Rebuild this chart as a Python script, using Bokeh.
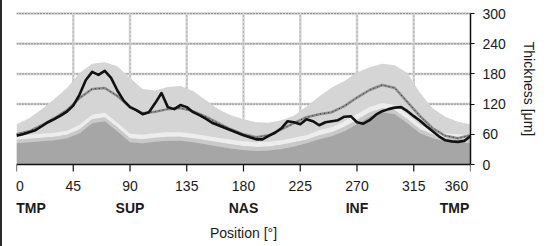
from bokeh.plotting import figure
from bokeh.models import FixedTicker, Range1d, LinearAxis, Span
from bokeh.embed import file_html
from bokeh.resources import INLINE

# ---------------- data ----------------
band_deg = [0, 10, 20, 30, 40, 50, 60, 70, 80, 90, 100, 110, 120, 130, 140, 150, 160, 170, 180,
            190, 200, 210, 220, 230, 240, 250, 260, 270, 280, 290, 300, 310, 320, 330, 340, 350, 360]
upper = [80, 92, 110, 130, 152, 182, 200, 203, 195, 172, 150, 147, 154, 156, 146, 128, 110, 98, 90,
         84, 83, 88, 97, 115, 135, 153, 166, 183, 193, 200, 197, 182, 142, 112, 95, 85, 80]
white_top = [57, 59, 61, 63, 67, 79, 99, 103, 83, 61, 59, 62, 64, 64, 61, 57, 53, 49, 46,
             44, 45, 48, 53, 58, 68, 74, 86, 100, 114, 122, 118, 100, 79, 69, 62, 60, 58]
white_bot = [49, 51, 53, 55, 59, 70, 90, 94, 74, 52, 50, 53, 55, 55, 52, 48, 44, 40, 37,
             35, 36, 39, 44, 49, 58, 64, 75, 89, 104, 112, 108, 90, 70, 60, 53, 51, 49]
dark_top = [42, 44, 46, 48, 52, 62, 82, 86, 66, 44, 42, 45, 47, 47, 44, 40, 36, 32, 29,
            27, 28, 31, 36, 42, 50, 56, 66, 80, 95, 104, 100, 82, 62, 52, 46, 44, 42]
mean = [60, 66, 78, 92, 108, 132, 150, 152, 136, 114, 102, 105, 110, 112, 106, 95, 82, 70, 60,
        54, 58, 70, 82, 94, 100, 104, 116, 133, 148, 158, 152, 124, 96, 72, 57, 52, 58]

meas_deg = [0, 5, 10, 15, 20, 25, 30, 35, 40, 45, 50, 55, 60, 65, 70, 75, 80, 85, 90, 95, 100,
            105, 110, 115, 120, 125, 130, 135, 140, 145, 150, 155, 160, 165, 170, 175, 180,
            185, 190, 195, 200, 205, 210, 215, 220, 225, 230, 235, 240, 245, 250, 255, 260,
            265, 270, 275, 280, 285, 290, 295, 300, 305, 310, 315, 320, 325, 330, 335, 340,
            345, 350, 355, 360]
measured = [57, 60, 64, 68, 76, 84, 90, 97, 105, 117, 139, 168, 184, 178, 186, 172, 147, 127, 114,
            108, 100, 104, 122, 142, 114, 110, 118, 114, 104, 98, 91, 83, 78, 73, 68, 63, 58,
            54, 50, 50, 57, 63, 72, 86, 84, 80, 90, 86, 78, 84, 86, 88, 95,
            96, 84, 81, 88, 99, 106, 110, 113, 114, 106, 96, 87, 76, 66, 56, 48,
            46, 45, 47, 56]

x_ticks = [0, 45, 90, 135, 180, 225, 270, 315, 360]
x_tick_labels = ["0", "45", "90", "135", "180", "225", "270", "315", "360"]
y_ticks = [0, 60, 120, 180, 240, 300]
region_pos = [0, 90, 180, 270, 360]
region_names = ["TMP", "SUP", "NAS", "INF", "TMP"]

# ---------------- layout ----------------
FONT = "Liberation Sans"
W, H = 547, 246
FRAME_L, FRAME_R = 16, 470          # x pixel of 0 deg / 360 deg
ZERO_Y, TOP_Y = 164, 13             # y pixel of 0 / 300 um
EXT_TOP, EXT_BOT = 8, 8             # extra frame room above / below
ppu = (ZERO_Y - TOP_Y) / 300.0       # px per um
ppd = (FRAME_R - FRAME_L) / 360.0    # px per degree

p = figure(width=W, height=H, title=None,
           x_range=Range1d(0, 360),
           y_range=Range1d(-EXT_BOT / ppu, 300 + EXT_TOP / ppu),
           y_axis_location="right", output_backend="svg", toolbar_location=None,
           min_border_left=FRAME_L - 2, min_border_right=W + 2 - FRAME_R,
           min_border_top=TOP_Y - EXT_TOP, min_border_bottom=H - ZERO_Y - EXT_BOT)
p.styles = {"border-left": "2px solid #2a2a2a"}
p.outline_line_color = None
p.background_fill_color = "white"
p.border_fill_color = "white"
p.xgrid.visible = False
p.ygrid.visible = False

# grid lines (drawn as segments, limited to 0..300)
hg = y_ticks[1:]
p.segment(x0=[x_ticks[0]] * len(hg), x1=[x_ticks[-1]] * len(hg), y0=hg, y1=hg,
          line_color="#cfcfcf", line_width=2.5)
p.segment(x0=[x_ticks[0]] * len(hg), x1=[x_ticks[-1]] * len(hg), y0=hg, y1=hg,
          line_color="#444444", line_width=1, line_dash="1 2", line_alpha=0.8)
vg = x_ticks[1:-1]
p.segment(x0=vg, x1=vg, y0=[y_ticks[0]] * len(vg), y1=[y_ticks[-1]] * len(vg),
          line_color="#d6d6d6", line_width=2.5)
p.segment(x0=vg, x1=vg, y0=[y_ticks[0]] * len(vg), y1=[y_ticks[-1]] * len(vg),
          line_color="#555555", line_width=1, line_dash="1 3", line_alpha=0.5)

# bands
p.varea(x=band_deg, y1=0, y2=upper, fill_color="#d5d5d5")
p.varea(x=band_deg, y1=white_bot, y2=white_top, fill_color="#ededed")
p.varea(x=band_deg, y1=dark_top, y2=white_bot, fill_color="#c9c9c9")
p.varea(x=band_deg, y1=0, y2=dark_top, fill_color="#a6a6a6")

# mean line
p.line(band_deg, mean, line_color="#8c8c8c", line_width=2.5)
p.line(band_deg, mean, line_color="#222222", line_width=1, line_dash="1 3", line_alpha=0.8)
# measured line
p.line(meas_deg, measured, line_color="#111111", line_width=2.6, line_join="round")

# bottom axis line + ticks (inside the extended frame)
p.add_layout(Span(location=0, dimension="width", line_color="#111111", line_width=1.5))
p.segment(x0=x_ticks, x1=x_ticks, y0=[0] * len(x_ticks), y1=[-7 / ppu] * len(x_ticks),
          line_color="#111111", line_width=1.2)

# right axis
ya = p.yaxis[0]
ya.ticker = FixedTicker(ticks=y_ticks)
ya.bounds = (y_ticks[0], y_ticks[-1])
ya.axis_line_color = "#111111"
ya.axis_line_width = 1.5
ya.major_tick_line_color = "#111111"
ya.major_tick_line_width = 1.2
ya.major_tick_in = 0
ya.major_tick_out = 4
ya.minor_tick_line_color = None
ya.major_label_standoff = 8
ya.major_label_text_font = FONT
ya.major_label_text_font_size = "14px"
ya.major_label_text_color = "#1a1a1a"
ya.axis_label = "Thickness [μm]"
ya.axis_label_text_font = FONT
ya.axis_label_text_font_size = "14px"
ya.axis_label_text_font_style = "normal"
ya.axis_label_text_color = "#1a1a1a"
ya.axis_label_standoff = 12


def label_positions(ticks, first_px, last_px):
    pos = list(ticks)
    pos[0] = round(ticks[0] + first_px / ppd, 3)
    pos[-1] = round(ticks[-1] - last_px / ppd, 3)
    return pos


# numeric labels (end labels aligned inwards like the original)
num_pos = label_positions(x_ticks, 3.5, 14)
xa = p.xaxis[0]
xa.ticker = FixedTicker(ticks=num_pos)
xa.major_label_overrides = {t: s for t, s in zip(num_pos, x_tick_labels)}
xa.axis_line_color = None
xa.major_tick_line_color = None
xa.major_tick_in = 0
xa.major_tick_out = 0
xa.minor_tick_line_color = None
xa.major_label_standoff = 8
xa.major_label_text_font = FONT
xa.major_label_text_font_size = "14px"
xa.major_label_text_color = "#1a1a1a"

# region labels + axis title
reg_pos = label_positions(region_pos, 14.5, 16)
ra = LinearAxis(ticker=FixedTicker(ticks=reg_pos),
                major_label_overrides={t: s for t, s in zip(reg_pos, region_names)},
                axis_line_color=None, major_tick_line_color=None, minor_tick_line_color=None,
                major_tick_in=0, major_tick_out=0, major_label_standoff=6,
                major_label_text_font=FONT, major_label_text_font_size="14px",
                major_label_text_font_style="bold", major_label_text_color="#1a1a1a",
                axis_label="Position [°]", axis_label_text_font=FONT,
                axis_label_text_font_size="14px", axis_label_text_font_style="normal",
                axis_label_text_color="#1a1a1a", axis_label_standoff=6)
p.add_layout(ra, "below")

open("out.html", "w").write(file_html(p, INLINE))
